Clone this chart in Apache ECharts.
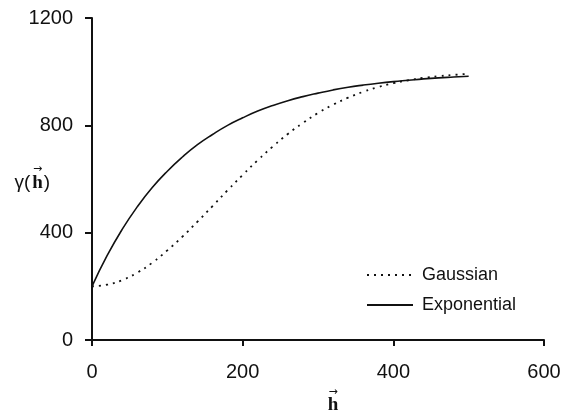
<!DOCTYPE html>
<html>
<head>
<meta charset="utf-8">
<script src="https://cdn.jsdelivr.net/npm/echarts@6/dist/echarts.min.js"></script>
<style>html,body{margin:0;padding:0;background:#fff}#c{width:569px;height:415px}</style>
</head>
<body>
<div id="c"></div>
<script>
var lagH = [0,20,40,60,80,100,120,140,160,180,200,220,240,260,280,300,320,340,360,380,400,420,440,460,480,500];
var gaussian = [200,206,223,251,288,334,385,441,499,558,615,670,721,768,809,846,877,903,925,943,957,968,977,983,988,992];
var exponential = [200,314,412,496,568,629,682,728,766,800,828,853,874,892,907,920,932,942,950,957,963,968,973,977,980,983];
var xTicks = [0,200,400,600];
var yTicks = [0,400,800,1200];
var seriesNames = ['Gaussian','Exponential'];

function pairs(ys){ return lagH.map(function(h,i){ return [h, ys[i]]; }); }

var chart = echarts.init(document.getElementById('c'), null, {renderer:'canvas'});
var font = '"Liberation Sans", Arial, sans-serif';
var serif = '"Liberation Serif", "DejaVu Serif", serif';
chart.setOption({
  animation:false,
  backgroundColor:'#fff',
  grid:{left:92, right:25, top:18, bottom:75, containLabel:false, outerBoundsMode:'none'},
  legend:{
    orient:'vertical', left:361, top:261, itemWidth:46, itemHeight:14, itemGap:12,
    itemStyle:{opacity:0},
    textStyle:{fontFamily:font, fontSize:18, color:'#111', padding:[0,0,0,4]},
    data:seriesNames
  },
  xAxis:{
    type:'value', min:xTicks[0], max:xTicks[xTicks.length-1], interval:200,
    axisLine:{lineStyle:{color:'#111', width:2}},
    axisTick:{show:true, length:6, lineStyle:{color:'#111', width:2}},
    axisLabel:{fontFamily:font, fontSize:20, color:'#111', margin:22, formatter:function(v){return String(v);}},
    splitLine:{show:false},
    name:'{arr|\u2192}\n{b|h}', nameLocation:'middle', nameGap:48, nameMoveOverlap:false,
    nameTextStyle:{
      padding:[0,0,0,30],
      rich:{
        arr:{fontFamily:'"DejaVu Sans", sans-serif', fontSize:11, color:'#111', lineHeight:8},
        b:{fontFamily:serif, fontWeight:'bold', fontSize:19, color:'#111', lineHeight:18}
      }
    }
  },
  yAxis:{
    type:'value', min:yTicks[0], max:yTicks[yTicks.length-1], interval:400,
    axisLine:{show:true, lineStyle:{color:'#111', width:2}},
    axisTick:{show:true, length:7, lineStyle:{color:'#111', width:2}},
    axisLabel:{fontFamily:font, fontSize:20, color:'#111', margin:19, formatter:function(v){return String(v);}},
    splitLine:{show:false},
    name:'{p1|}{arr|\u2192}{p2|}\n{a1|\u03B3(}{b|h}{a2|)}', nameLocation:'middle', nameRotate:0, nameGap:42, nameMoveOverlap:false,
    nameTextStyle:{
      align:'right',
      rich:{
        p1:{width:19, lineHeight:8},
        arr:{width:11, align:'center', fontFamily:'"DejaVu Sans", sans-serif', fontSize:11, color:'#111', lineHeight:8},
        p2:{width:7, lineHeight:8},
        a1:{width:19, fontFamily:font, fontSize:19, color:'#111', lineHeight:20},
        b:{width:11, align:'center', fontFamily:serif, fontWeight:'bold', fontSize:19, color:'#111', lineHeight:20},
        a2:{width:7, fontFamily:font, fontSize:19, color:'#111', lineHeight:20}
      }
    }
  },
  series:[
    {name:seriesNames[0], type:'line', data:pairs(gaussian), showSymbol:false, symbol:'none', smooth:true,
     itemStyle:{color:'#111'}, lineStyle:{color:'#111', width:1.8, type:[2,5]}},
    {name:seriesNames[1], type:'line', data:pairs(exponential), showSymbol:false, symbol:'none', smooth:true,
     itemStyle:{color:'#111'}, lineStyle:{color:'#111', width:1.6, type:'solid'}}
  ]
});
</script>
</body>
</html>
